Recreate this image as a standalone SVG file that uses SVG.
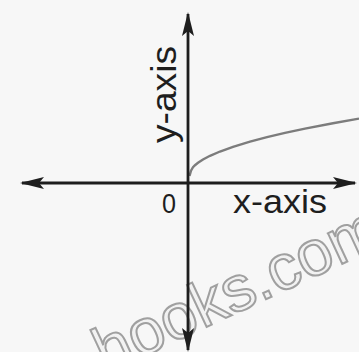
<svg xmlns="http://www.w3.org/2000/svg" width="359" height="352" viewBox="0 0 359 352">
<style>
.lbl{font-family:"Liberation Sans",Arial,sans-serif;fill:#1e1e1e}
.axis{stroke:#1e1e1e;stroke-width:2.8;fill:none}
.wm{font-family:"Liberation Sans",Arial,sans-serif;font-size:64px;fill:#f2f2f2;stroke:#a0a0a0;stroke-width:2}
</style>
<defs>
<marker id="ah" viewBox="0 0 24 12" refX="22" refY="6" markerWidth="24" markerHeight="12" markerUnits="userSpaceOnUse" orient="auto">
<path d="M0,0 L24,6 L0,12 L5,6 Z" fill="#1e1e1e"/>
</marker>
</defs>
<rect width="359" height="352" fill="#f7f7f7"/>
<g id="watermark">
<text class="wm" x="106" y="374" transform="rotate(-25 106 374)">hooks.com</text>
</g>
<g id="curve">
<polyline fill="none" stroke="#7c7c7c" stroke-width="2.4" points="189.5,176 191,170.6 193,167.2 195,165.2 198,162.8 203,159.5 210,155.8 220,151.5 233,146.8 250,141.6 267,137.1 285,132.9 305,128.6 333,123.2 359,118.6"/>
</g>
<g id="connectors">
<line class="axis" x1="188" y1="183" x2="22" y2="183" marker-end="url(#ah)"/>
<line class="axis" x1="188" y1="183" x2="355" y2="183" marker-end="url(#ah)"/>
<line class="axis" x1="188" y1="183" x2="188" y2="14" marker-end="url(#ah)"/>
<line class="axis" x1="188" y1="183" x2="188" y2="350" marker-end="url(#ah)"/>
</g>
<g id="labels">
<text class="lbl" font-size="35" x="0" y="0" transform="translate(176 143) rotate(-90)" textLength="97" lengthAdjust="spacingAndGlyphs">y-axis</text>
<text class="lbl" font-size="34" x="233" y="213" textLength="94" lengthAdjust="spacingAndGlyphs">x-axis</text>
<text class="lbl" font-size="27" x="162" y="213" textLength="14" lengthAdjust="spacingAndGlyphs">0</text>
</g>
</svg>
